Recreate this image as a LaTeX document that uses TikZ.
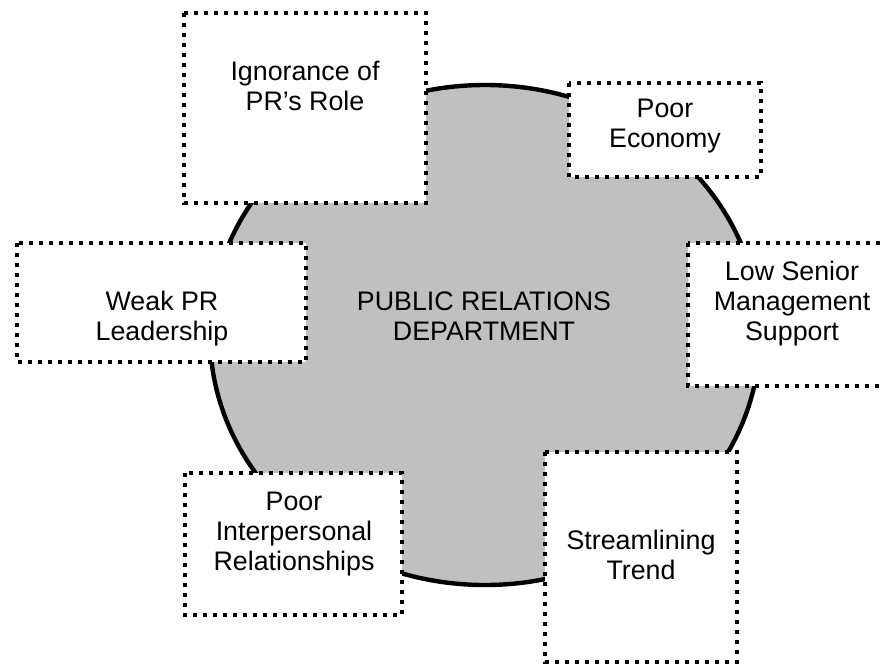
\documentclass[tikz,border=0pt]{standalone}
\usepackage{fontspec}
\setmainfont{Liberation Sans}
\definecolor{deptgray}{RGB}{192,192,192}
\begin{document}
\begin{tikzpicture}[x=0.5pt,y=-0.5pt,
  factor/.style={draw=black,fill=white,line width=2pt,dash pattern=on 2pt off 3pt},
  lbl/.style={align=center,anchor=base,font=\fontsize{13.4}{15}\selectfont}]
  \clip (0,0) rectangle (882,669);
  % department
  \draw[fill=deptgray,line width=2.2pt] (485,335) ellipse [x radius=275,y radius=250];
  \node[lbl] (dept) at (484,340) {PUBLIC RELATIONS\\DEPARTMENT};
  % factors (base = last line)
  \draw[factor] (184,13) rectangle (426,203);
  \node[lbl] (ign) at (305,110) {Ignorance of\\PR’s Role};
  \draw[factor] (569,83) rectangle (761,177);
  \node[lbl] (econ) at (665,147) {Poor\\Economy};
  \draw[factor] (17,243) rectangle (306,362);
  \node[lbl] (weak) at (162,340) {Weak PR\\Leadership};
  \draw[factor] (688,243) rectangle (896,386);
  \node[lbl] (senior) at (792,340) {Low Senior\\Management\\Support};
  \draw[factor] (185,473) rectangle (402,615);
  \node[lbl] (inter) at (294,570) {Poor\\Interpersonal\\Relationships};
  \draw[factor] (545,452) rectangle (737,662);
  \node[lbl] (stream) at (641,579) {Streamlining\\Trend};
\end{tikzpicture}
\end{document}
